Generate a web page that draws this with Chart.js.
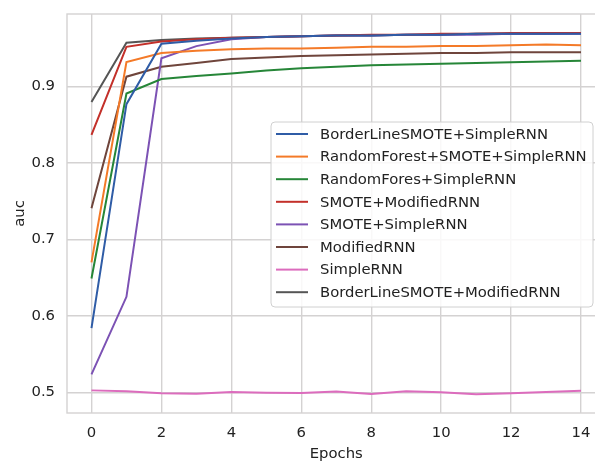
<!DOCTYPE html>
<html>
<head>
<meta charset="utf-8">
<script src="https://cdn.jsdelivr.net/npm/chart.js@4"></script>
<style>
  html, body { margin: 0; padding: 0; background: #fff; }
  #wrap { width: 595px; height: 464px; overflow: hidden; position: relative; }
  canvas { display: block; }
</style>
</head>
<body>
<div id="wrap"><canvas id="aucChart" width="620" height="464"></canvas></div>
<script>
// --- Data ---
const epochs = [0, 1, 2, 3, 4, 5, 6, 7, 8, 9, 10, 11, 12, 13, 14];

const seriesNames = [
  "BorderLineSMOTE+SimpleRNN",
  "RandomForest+SMOTE+SimpleRNN",
  "RandomFores+SimpleRNN",
  "SMOTE+ModifiedRNN",
  "SMOTE+SimpleRNN",
  "ModifiedRNN",
  "SimpleRNN",
  "BorderLineSMOTE+ModifiedRNN"
];

const borderSmoteSimple = [0.584, 0.877, 0.956, 0.960, 0.963, 0.965, 0.966, 0.967, 0.967, 0.968, 0.968, 0.969, 0.969, 0.969, 0.969];
const rfSmoteSimple     = [0.670, 0.932, 0.944, 0.947, 0.949, 0.950, 0.950, 0.951, 0.952, 0.952, 0.953, 0.953, 0.954, 0.955, 0.954];
const rfSimple          = [0.649, 0.891, 0.910, 0.914, 0.917, 0.921, 0.924, 0.926, 0.928, 0.929, 0.930, 0.931, 0.932, 0.933, 0.934];
const smoteModified     = [0.837, 0.952, 0.959, 0.962, 0.964, 0.965, 0.966, 0.967, 0.968, 0.968, 0.969, 0.969, 0.970, 0.970, 0.970];
const smoteSimple       = [0.5235, 0.625, 0.937, 0.953, 0.962, 0.965, 0.966, 0.967, 0.967, 0.968, 0.968, 0.968, 0.969, 0.969, 0.969];
const modifiedRnn       = [0.741, 0.913, 0.926, 0.931, 0.936, 0.938, 0.940, 0.941, 0.942, 0.943, 0.944, 0.944, 0.945, 0.945, 0.945];
const simpleRnn         = [0.5026, 0.5013, 0.4987, 0.4983, 0.5005, 0.4996, 0.4992, 0.501, 0.498, 0.5013, 0.500, 0.4974, 0.4987, 0.5005, 0.502];
const borderSmoteModified = [0.880, 0.9575, 0.961, 0.963, 0.964, 0.965, 0.966, 0.967, 0.967, 0.968, 0.968, 0.969, 0.969, 0.969, 0.970];

const seriesValues = [borderSmoteSimple, rfSmoteSimple, rfSimple, smoteModified,
                      smoteSimple, modifiedRnn, simpleRnn, borderSmoteModified];

const colors = ["#2f5ca6", "#f47a28", "#268638", "#c3302a", "#7c52b4", "#6f453c", "#dc6cbd", "#555555"];

const yTicks = [0.5, 0.6, 0.7, 0.8, 0.9];
const xTicks = [0, 2, 4, 6, 8, 10, 12, 14];

const FONT = "'DejaVu Sans', sans-serif";
const FSIZE = 14.8;
const TEXT = "#222";
const GRID = "#d4d2d2";

// --- Plugins ---
// light frame around the plot area (top / left / bottom spines)
const frame = {
  id: "frame",
  beforeDatasetsDraw(chart) {
    const { ctx, chartArea: a } = chart;
    ctx.save();
    ctx.strokeStyle = GRID;
    ctx.lineWidth = 1.4;
    ctx.strokeRect(a.left, a.top, a.right - a.left, a.bottom - a.top);
    ctx.restore();
  }
};

// legend box drawn inside the plot, right-middle
const boxLegend = {
  id: "boxLegend",
  afterDatasetsDraw(chart) {
    const ctx = chart.ctx;
    const x0 = 271, y0 = 122, w = 322, h = 185, r = 4;
    ctx.save();
    ctx.beginPath();
    ctx.roundRect(x0, y0, w, h, r);
    ctx.fillStyle = "rgba(255,255,255,0.85)";
    ctx.fill();
    ctx.strokeStyle = "#d0d0d0";
    ctx.lineWidth = 1;
    ctx.stroke();

    ctx.font = FSIZE + "px " + FONT;
    ctx.textBaseline = "middle";
    ctx.textAlign = "left";
    chart.data.datasets.forEach((ds, i) => {
      const y = 134 + i * 22.6;
      ctx.strokeStyle = ds.borderColor;
      ctx.lineWidth = 2;
      ctx.beginPath();
      ctx.moveTo(276, y);
      ctx.lineTo(308, y);
      ctx.stroke();
      ctx.fillStyle = TEXT;
      ctx.fillText(ds.label, 320, y + 1);
    });
    ctx.restore();
  }
};

const datasets = seriesNames.map((name, i) => ({
  label: name,
  data: epochs.map((e, j) => ({ x: e, y: seriesValues[i][j] })),
  borderColor: colors[i],
  backgroundColor: colors[i],
  borderWidth: 2,
  pointRadius: 0,
  tension: 0,
  fill: false
}));

const ctx = document.getElementById("aucChart").getContext("2d");

new Chart(ctx, {
  type: "line",
  data: { datasets },
  plugins: [frame, boxLegend],
  options: {
    responsive: false,
    animation: false,
    layout: { padding: { left: 0, top: 14, right: 14.5, bottom: 0 } },
    plugins: { legend: { display: false }, tooltip: { enabled: false } },
    scales: {
      x: {
        type: "linear",
        min: -0.7,
        max: 14.7,
        afterFit: s => { s.height = 51; s.paddingLeft = 0; s.paddingRight = 0; },
        afterBuildTicks: s => { s.ticks = xTicks.map(v => ({ value: v })); },
        ticks: { color: TEXT, font: { family: FONT, size: FSIZE }, padding: 11, maxRotation: 0 },
        grid: { color: GRID, lineWidth: 1.4, drawTicks: false },
        border: { display: false },
        title: { display: true, text: "Epochs", color: TEXT, font: { family: FONT, size: FSIZE }, padding: { top: 0, bottom: 1 } }
      },
      y: {
        min: 0.473,
        max: 0.995,
        afterFit: s => { s.width = 67; s.paddingTop = 0; s.paddingBottom = 0; },
        afterBuildTicks: s => { s.ticks = yTicks.map(v => ({ value: v })); },
        ticks: { color: TEXT, font: { family: FONT, size: FSIZE }, padding: 12, callback: v => v.toFixed(1) },
        grid: { color: GRID, lineWidth: 1.4, drawTicks: false },
        border: { display: false },
        title: { display: true, text: "auc", color: TEXT, font: { family: FONT, size: FSIZE }, padding: { top: 11, bottom: 0 } }
      }
    }
  }
});
</script>
</body>
</html>
